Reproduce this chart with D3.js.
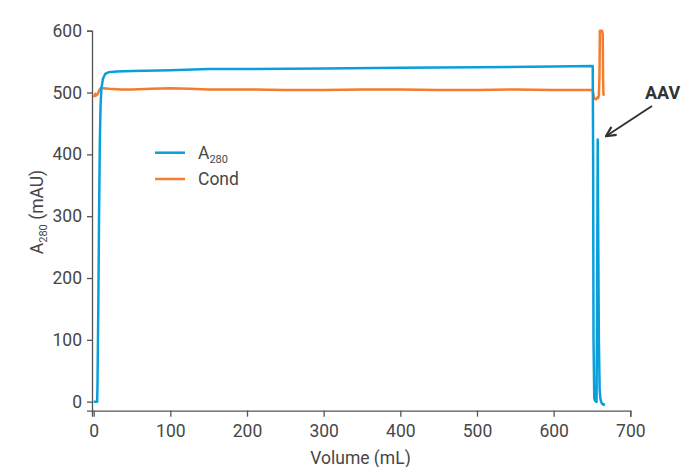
<!DOCTYPE html>
<html><head><meta charset="utf-8">
<script src="https://cdn.jsdelivr.net/npm/d3@7"></script>
<style>body{margin:0;background:#fff}svg{display:block}text{font-family:Roboto,"Noto Sans",sans-serif}</style>
</head><body><svg id="c" width="686" height="467"></svg>
<script>
const xTicks = [0,100,200,300,400,500,600,700];
const yTicks = [0,100,200,300,400,500,600];
const seriesNames = ["A280","Cond"];
const a280Volume = [0,4.5,5,6,7,8,9,10,12,15,20,30,50,100,150,200,300,400,500,600,650,651,651.5,652,653,654,655,656,656.8,657.5,658,659,660,661,662,663,665,667];
const a280Value  = [0,0,30,150,300,420,480,505,522,530,533,534,535,536,538,538,539,540,541,542,543,543,400,100,5,2,0,0,200,424,300,100,20,5,0,-3,-5,-4];
const condVolume = [0,1,2,3,5,7,9,12,20,35,50,75,100,125,150,200,250,300,350,400,450,500,550,600,650,651,652,653,655,657,658,659,659.8,660.3,663,664,664.5,665,666];
const condValue  = [496,494,498,495,497,503,507,507,506,505,505,506,507,506,505,505,504,504,505,505,504,504,505,504,504,504,495,490,489,492,491,495,530,600,600,595,520,497,495];

const FONT = "Roboto, sans-serif", FS = "17.5px", SUB = "11px";
const svg = d3.select("#c");
const x = d3.scaleLinear().domain([-2.2,700]).range([92,630.3]);
const y = d3.scaleLinear().domain([-14.6,600]).range([410.7,30.7]);
const axCol = "#555", txtCol = "#474747";

const gx = svg.append("g").attr("transform","translate(0,410.7)")
  .call(d3.axisBottom(x).tickValues(xTicks).tickSizeOuter(0).tickSize(6).tickPadding(8));
const gy = svg.append("g").attr("transform","translate(92,0)")
  .call(d3.axisLeft(y).tickValues(yTicks).tickSizeOuter(0).tickSize(5).tickPadding(5));
[gx,gy].forEach(g=>{
  g.select(".domain").attr("stroke",axCol).attr("stroke-width",1.3);
  g.selectAll(".tick line").attr("stroke",axCol).attr("stroke-width",1.3);
  g.selectAll(".tick text").attr("fill",txtCol).style("font-size",FS).style("font-family",FONT);
});

const blue = "#0a9fdb", orange = "#f47c2c";
const line = d3.line().x(d=>x(d[0])).y(d=>y(d[1]));
svg.append("path").datum(condVolume.map((v,i)=>[v,condValue[i]]))
  .attr("d",line).attr("fill","none").attr("stroke",orange).attr("stroke-width",2.5).attr("stroke-linejoin","round");
svg.append("path").datum(a280Volume.map((v,i)=>[v,a280Value[i]]))
  .attr("d",line).attr("fill","none").attr("stroke",blue).attr("stroke-width",2.5).attr("stroke-linejoin","round");

// legend
const leg = svg.append("g");
[[blue,152.7],[orange,179]].forEach(([c,ly])=>{
  leg.append("line").attr("x1",155).attr("x2",185).attr("y1",ly).attr("y2",ly).attr("stroke",c).attr("stroke-width",2.5);
});
const t1 = leg.append("text").attr("x",198).attr("y",158.5).attr("fill",txtCol).style("font-size",FS);
t1.append("tspan").text("A");
t1.append("tspan").attr("dy",4).style("font-size",SUB).text("280");
leg.append("text").attr("x",198).attr("y",184.5).attr("fill",txtCol).style("font-size",FS).text("Cond");

// axis titles
svg.append("text").attr("x",360.5).attr("y",464).attr("text-anchor","middle").attr("fill",txtCol).style("font-size",FS).text("Volume (mL)");
const yt = svg.append("text").attr("transform","translate(42.5,212) rotate(-90)").attr("text-anchor","middle").attr("fill",txtCol).style("font-size",FS);
yt.append("tspan").text("A");
yt.append("tspan").attr("dy",4).style("font-size",SUB).text("280");
yt.append("tspan").attr("dy",-4).text(" (mAU)");

// annotation
svg.append("text").attr("x",645).attr("y",99).attr("fill","#333").style("font-size","18px").style("font-weight","bold").text("AAV");
svg.append("defs").append("marker").attr("id","ah").attr("viewBox","0 0 10 10").attr("refX",8).attr("refY",5)
  .attr("markerWidth",6).attr("markerHeight",6).attr("orient","auto")
  .append("path").attr("d","M1,1 L9,5 L1,9").attr("fill","none").attr("stroke","#333").attr("stroke-width",1.8);
svg.append("line").attr("x1",652).attr("y1",106).attr("x2",607).attr("y2",135.5).attr("stroke","#333").attr("stroke-width",2).attr("marker-end","url(#ah)");
</script></body></html>
